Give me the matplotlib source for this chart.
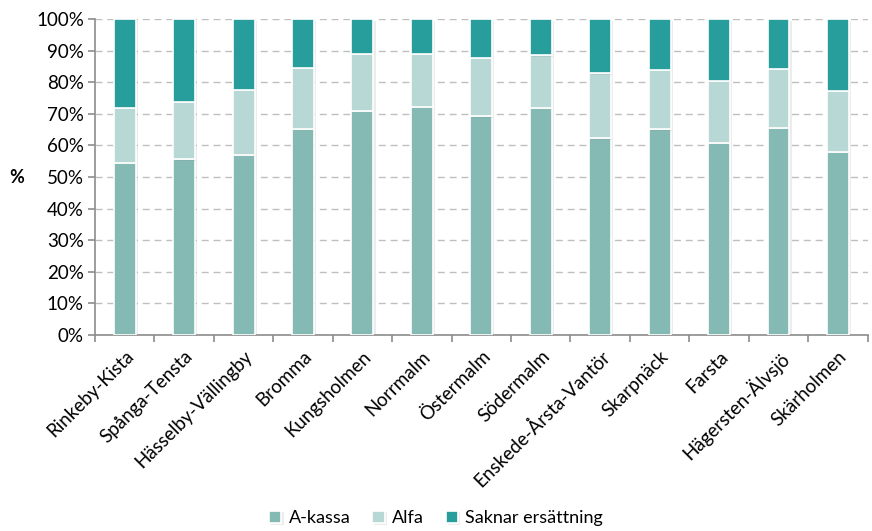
import matplotlib.pyplot as plt
import matplotlib.patheffects as pe
from matplotlib.ticker import PercentFormatter
import numpy as np

districts = ["Rinkeby-Kista", "Spånga-Tensta", "Hässelby-Vällingby", "Bromma",
             "Kungsholmen", "Norrmalm", "Östermalm", "Södermalm",
             "Enskede-Årsta-Vantör", "Skarpnäck", "Farsta", "Hägersten-Älvsjö",
             "Skärholmen"]
a_kassa = [54.6, 55.6, 57.0, 65.3, 71.0, 72.2, 69.3, 71.9, 62.3, 65.1, 60.8, 65.6, 58.0]
alfa = [17.4, 18.2, 20.6, 19.3, 18.0, 16.8, 18.5, 16.7, 20.5, 18.9, 19.7, 18.6, 19.4]
saknar = [100 - a - b for a, b in zip(a_kassa, alfa)]

colors = ["#84bab3", "#b8d8d5", "#289e9c"]
labels = ["A-kassa", "Alfa", "Saknar ersättning"]

plt.rcParams['font.family'] = ['Lato', 'DejaVu Sans']

fig = plt.figure(figsize=(8.72, 5.31), dpi=100)
ax = fig.add_axes([0.109, 0.369, 0.886, 0.595])

x = np.arange(len(districts))
bottom = np.zeros(len(districts))
shadow = [pe.SimplePatchShadow(offset=(1.5, -1), alpha=0.15, shadow_rgbFace='gray'), pe.Normal()]
for vals, col, lab in zip([a_kassa, alfa, saknar], colors, labels):
    bars = ax.bar(x, vals, width=0.37, bottom=bottom, color=col, edgecolor="white",
                  linewidth=1.2, label=lab, zorder=3)
    for b in bars:
        b.set_path_effects(shadow)
    bottom += np.array(vals)

ax.set_ylim(0, 100)
ax.set_xlim(-0.5, len(districts) - 0.5)
ax.set_yticks(np.arange(0, 101, 10))
ax.yaxis.set_major_formatter(PercentFormatter(decimals=0))
ax.grid(axis="y", color="#bfbfbf", linestyle=(0, (5, 3.5)), linewidth=1, zorder=0)

# category boundary ticks like Excel
ax.set_xticks(x)
ax.set_xticklabels(districts, rotation=45, ha="right", rotation_mode="anchor", fontsize=13.5)
ax.tick_params(axis="x", length=0, pad=9)
ax.set_xticks(np.arange(-0.5, len(districts), 1), minor=True)
ax.tick_params(axis="x", which="minor", length=5, color="#8c8c8c", width=1.2)
ax.tick_params(axis="y", length=5, color="#8c8c8c", width=1.2, labelsize=13.5, pad=3)

for side in ["top", "right"]:
    ax.spines[side].set_visible(False)
for side in ["left", "bottom"]:
    ax.spines[side].set_color("#8c8c8c")
    ax.spines[side].set_linewidth(1.2)

ax.set_ylabel("%", rotation=0, fontsize=13, fontweight="bold", va="center")
ax.yaxis.set_label_coords(-0.101, 0.5)

fig.legend(loc="lower center", bbox_to_anchor=(0.5, -0.022), ncol=3, frameon=False,
           fontsize=13, handlelength=0.7, handleheight=0.7, handletextpad=0.4,
           columnspacing=1.2)

fig.savefig("out.png", dpi=100)
